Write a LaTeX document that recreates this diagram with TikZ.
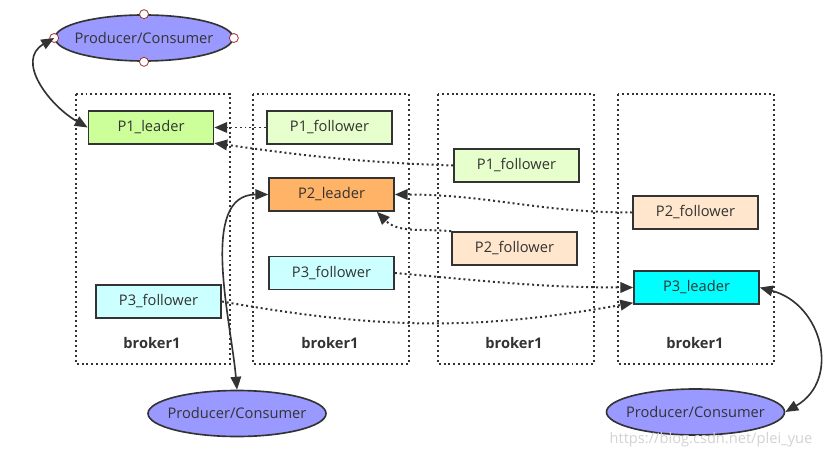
\documentclass[tikz,border=0pt]{standalone}
\usepackage{fontspec}
\setmainfont{Open Sans}
\usetikzlibrary{positioning,arrows.meta,shapes.geometric}
\definecolor{edgegray}{HTML}{333333}
\definecolor{leadone}{HTML}{CCFF99}
\definecolor{followone}{HTML}{E6FFCC}
\definecolor{leadtwo}{HTML}{FFB366}
\definecolor{followtwo}{HTML}{FFE6CC}
\definecolor{leadthree}{HTML}{00FFFF}
\definecolor{followthree}{HTML}{CCFFFF}
\definecolor{clientblue}{HTML}{9999FF}
\definecolor{handlered}{HTML}{A33333}
\tikzset{
  part/.style={draw=edgegray, line width=1.4pt, minimum width=3.75cm, minimum height=0.99cm,
    inner sep=0pt, text=edgegray, font=\fontsize{12.5}{14}\selectfont},
  client/.style={ellipse, draw=edgegray, line width=1.4pt, fill=clientblue, minimum width=5.34cm,
    minimum height=1.38cm, inner xsep=-0.21cm, inner ysep=0pt, text=edgegray,
    font=\fontsize{12.5}{14}\selectfont},
  brokerbox/.style={draw=edgegray, line width=1.7pt, dash pattern=on 1.7pt off 2.5pt},
  brokername/.style={text=edgegray, font=\bfseries\fontsize{12.5}{14}\selectfont},
  sync/.style={-{Triangle[length=11pt,width=9pt]}, draw=edgegray, line width=1.7pt,
    dash pattern=on 1.7pt off 2.5pt},
  link/.style={{Triangle[length=11pt,width=9pt]}-{Triangle[length=11pt,width=9pt]},
    draw=edgegray, line width=1.4pt},
  handle/.style={circle, draw=handlered, fill=white, minimum size=0.27cm, inner sep=0pt, line width=0.7pt}
}
\begin{document}
\begin{tikzpicture}[x=0.03cm, y=0.03cm]
\useasboundingbox (0,0) rectangle (824,-458);
% brokers
\draw[brokerbox] (76,-94) rectangle (230,-364);
\draw[brokerbox] (253,-94) rectangle (409,-364);
\draw[brokerbox] (438,-94) rectangle (594,-364);
\draw[brokerbox] (618,-94) rectangle (774,-364);
\node[brokername] (ba) at (152,-343) {broker1};
\node[brokername] (bb) at (330,-343) {broker1};
\node[brokername] (bc) at (514,-343) {broker1};
\node[brokername] (bd) at (695,-343) {broker1};
% partitions
\node[part, fill=leadone] (p1l) at (151,-127.5) {P1\_leader};
\node[part, fill=followone] (p1fb) at (329.5,-127.5) {P1\_follower};
\node[part, fill=followone] (p1fc) at (516.5,-165.5) {P1\_follower};
\node[part, fill=leadtwo] (p2l) at (331.5,-194.5) {P2\_leader};
\node[part, fill=followtwo] (p2fc) at (514.5,-248.5) {P2\_follower};
\node[part, fill=followtwo] (p2fd) at (695.5,-212.5) {P2\_follower};
\node[part, fill=leadthree] (p3l) at (696.5,-287.5) {P3\_leader};
\node[part, fill=followthree] (p3fb) at (331.5,-273) {P3\_follower};
\node[part, fill=followthree] (p3fa) at (158.5,-301.5) {P3\_follower};
% clients
\node[client] (pc1) at (144,-38) {Producer/Consumer};
\node[client] (pc2) at (237,-413.5) {Producer/Consumer};
\node[client] (pc3) at (695.5,-412) {Producer/Consumer};
\foreach \a in {north,south,east,west}
  \node[handle] (h-\a) at (pc1.\a) {};
% replication
\draw[sync] (p1fb) -- (p1l);
\draw[sync] (p1fc.west) to[out=178,in=-8] ([yshift=0.05cm]p1l.south east);
\draw[sync] (p2fd.west) to[out=180,in=0] (p2l.east);
\draw[sync] (p2fc.north west) to[out=175,in=-45] ([xshift=-0.54cm]p2l.south east);
\draw[sync] (p3fb.east) to[out=-5,in=180] (p3l.west);
\draw[sync] (p3fa.east) to[out=-10,in=190] ([yshift=0.06cm]p3l.south west);
% clients to leaders
\draw[link] (pc1.west) to[out=210,in=150,looseness=1.2] (p1l.west);
\draw[link] (p2l.west) to[out=180,in=95,looseness=0.9] (pc2.north);
\draw[link] (p3l.east) to[out=-15,in=30,looseness=1.3] (pc3.east);
% watermark
\node[text=gray!35, font=\fontsize{12.5}{14}\selectfont] (wm) at (711,-440) {https://blog.csdn.net/plei\_yue};
\end{tikzpicture}
\end{document}
